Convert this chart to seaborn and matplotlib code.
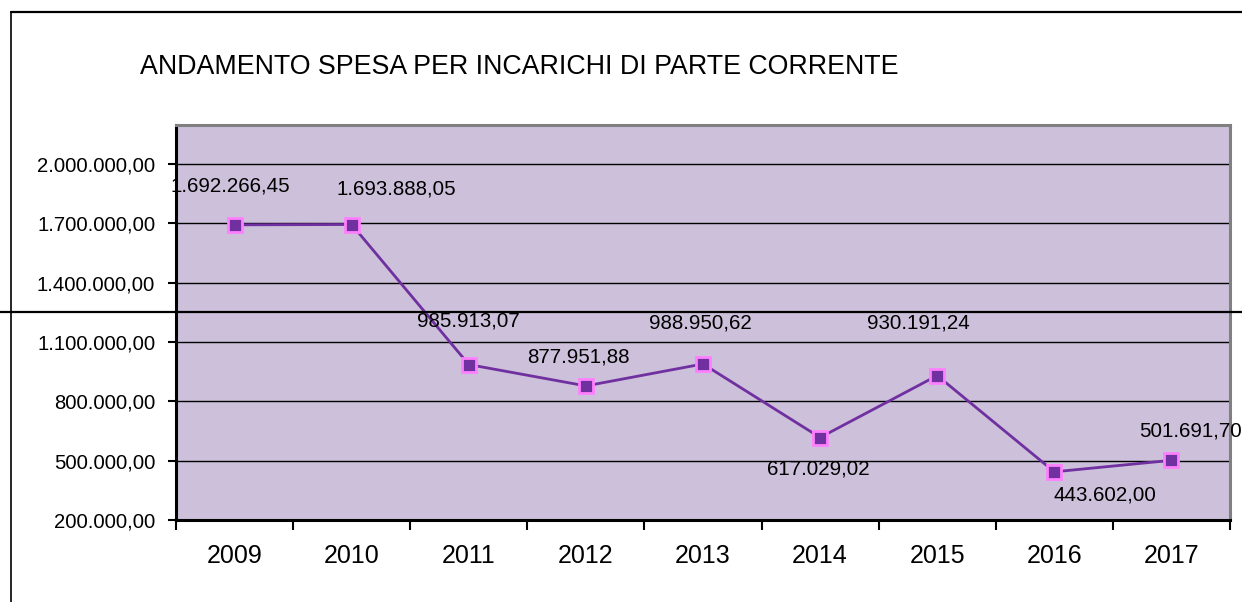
import matplotlib
matplotlib.use("Agg")
import matplotlib.pyplot as plt
from matplotlib.ticker import FuncFormatter, FixedLocator
from matplotlib.lines import Line2D
import seaborn as sns
import pandas as pd

# dati
anni = ["2009", "2010", "2011", "2012", "2013", "2014", "2015", "2016", "2017"]
spesa = [1692266.45, 1693888.05, 985913.07, 877951.88, 988950.62,
         617029.02, 930191.24, 443602.00, 501691.70]
etichette = ["1.692.266,45", "1.693.888,05", "985.913,07", "877.951,88", "988.950,62",
             "617.029,02", "930.191,24", "443.602,00", "501.691,70"]
# scostamento etichette (pixel)
offset_etichette = [(-4, 39), (45, 36), (0, 44), (-8, 29), (-3, 41),
                    (-2, -31), (-19, 53), (51, -23), (19, 29)]
tick_y = [200000, 500000, 800000, 1100000, 1400000, 1700000, 2000000]


def formato_it(v, pos=None):
    s = f"{v:,.2f}"
    return s.replace(",", "X").replace(".", ",").replace("X", ".")


def main():
    sns.set_style("white")
    plt.rcParams['font.family'] = ['Liberation Sans', 'DejaVu Sans']
    plt.rcParams['text.color'] = 'black'
    plt.rcParams['xtick.color'] = 'black'
    plt.rcParams['ytick.color'] = 'black'

    df = pd.DataFrame({"anno": anni, "spesa": spesa})
    df["pos"] = range(len(anni))

    fig = plt.figure(figsize=(12.42, 6.02), dpi=100)
    ax = fig.add_axes([176 / 1242, 1 - 520 / 602, (1230 - 176) / 1242, (520 - 125) / 602])
    ax.set_facecolor("#CCC0DA")

    sns.lineplot(data=df, x="pos", y="spesa", ax=ax, color="#7030A0", linewidth=2,
                 marker="s", markersize=10, markerfacecolor="#7030A0",
                 markeredgecolor="#FF80FF", markeredgewidth=2, zorder=3)

    for i, (v, t, (dx, dy)) in enumerate(zip(spesa, etichette, offset_etichette)):
        ax.annotate(t, (i, v), xytext=(dx, dy), textcoords="offset pixels",
                    ha="center", va="center", fontsize=14.8, color="black", zorder=4)

    ax.set_xlim(-0.5, len(anni) - 0.5)
    ax.set_ylim(200000, 2197000)

    ax.yaxis.set_major_locator(FixedLocator(tick_y))
    ax.yaxis.set_major_formatter(FuncFormatter(formato_it))
    ax.grid(axis="y", color="black", linewidth=1)
    ax.grid(axis="x", visible=False)

    ax.set_xticks(range(len(anni)))
    ax.set_xticklabels(anni)
    ax.set_xticks([i - 0.5 for i in range(len(anni) + 1)], minor=True)
    ax.tick_params(axis="x", which="major", length=0, pad=17, labelsize=18, labelcolor="black")
    ax.tick_params(axis="x", which="minor", length=7, width=1.5, direction="out",
                   bottom=True, color="black")
    ax.tick_params(axis="y", length=6, width=1.5, direction="out", left=True,
                   pad=9, labelsize=14.6, color="black", labelcolor="black")
    ax.set_xlabel("")
    ax.set_ylabel("")

    for s in ["left", "bottom"]:
        ax.spines[s].set_color("black")
        ax.spines[s].set_linewidth(2.2)
    for s in ["top", "right"]:
        ax.spines[s].set_color("#808080")
        ax.spines[s].set_linewidth(2.2)

    fig.text(140 / 1242, 1 - 67 / 602, "ANDAMENTO SPESA PER INCARICHI DI PARTE CORRENTE",
             fontsize=19.3, ha="left", va="center", color="black")

    # cornice
    fig.add_artist(Line2D([11 / 1242, 11 / 1242], [0, 1 - 12 / 602], color="black", linewidth=1.2))
    fig.add_artist(Line2D([11 / 1242, 1], [1 - 12 / 602, 1 - 12 / 602], color="black", linewidth=1.6))
    fig.add_artist(Line2D([0, 1], [1 - 312 / 602, 1 - 312 / 602], color="black", linewidth=1.6, zorder=5))

    fig.savefig("out.png", dpi=100, facecolor="white")


if __name__ == "__main__":
    main()
